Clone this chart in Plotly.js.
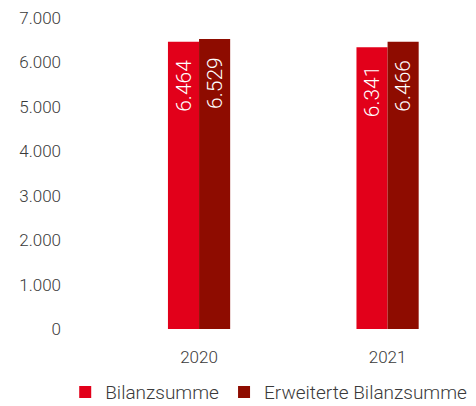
<!DOCTYPE html>
<html>
<head>
<meta charset="utf-8">
<script src="https://cdn.plot.ly/plotly-3.0.1.min.js"></script>
<style>html,body{margin:0;padding:0;background:#fff;}#chart{width:476px;height:406px;}</style>
</head>
<body>
<div id="chart"></div>
<script>
const categories = ["2020", "2021"];
const seriesNames = ["Bilanzsumme", "Erweiterte Bilanzsumme"];
const bilanzsumme = [6464, 6341];
const erweiterteBilanzsumme = [6529, 6466];
const yTickValues = [0, 1000, 2000, 3000, 4000, 5000, 6000, 7000];

const FONT = "Roboto, 'Open Sans', sans-serif";
const textPad = "\u00a0\u00a0\u00a0";

function barTrace(name, values, color) {
  return {
    type: "bar",
    name: name,
    x: categories,
    y: values,
    marker: {color: color, line: {width: 0}},
    texttemplate: "%{y:,.0f}" + textPad,
    textposition: "inside",
    insidetextanchor: "end",
    textangle: -90,
    insidetextfont: {family: FONT, size: 21, color: "#ffffff", weight: 300},
    constraintext: "none",
    hoverinfo: "none"
  };
}

const data = [
  barTrace(seriesNames[0], bilanzsumme, "#e2001a"),
  barTrace(seriesNames[1], erweiterteBilanzsumme, "#8e0c00")
];

const layout = {
  width: 476,
  height: 406,
  margin: {l: 62, r: 10, t: 18, b: 77, pad: 0},
  paper_bgcolor: "#ffffff",
  plot_bgcolor: "#ffffff",
  separators: ",.",
  font: {family: FONT, size: 17, color: "#3a3a3a", weight: 300},
  barmode: "group",
  bargap: 0.67,
  bargroupgap: 0,
  showlegend: true,
  legend: {
    orientation: "h",
    xref: "container",
    yref: "container",
    x: 0.137, xanchor: "left",
    y: 0.034, yanchor: "middle",
    font: {family: FONT, size: 19, color: "#3a3a3a", weight: 300},
    itemwidth: 30,
    traceorder: "normal"
  },
  xaxis: {
    type: "category",
    range: [-0.727, 1.416],
    showgrid: false,
    zeroline: false,
    showline: false,
    ticks: "outside",
    ticklen: 13,
    tickcolor: "rgba(0,0,0,0)",
    tickfont: {family: FONT, size: 17, color: "#3a3a3a", weight: 300}
  },
  yaxis: {
    range: [0, 7000],
    tickvals: yTickValues,
    tickformat: ",.0f",
    showgrid: false,
    zeroline: false,
    showline: false,
    ticks: "",
    tickfont: {family: FONT, size: 17, color: "#3a3a3a", weight: 300}
  }
};

Plotly.newPlot("chart", data, layout, {displayModeBar: false, staticPlot: true});
</script>
</body>
</html>
